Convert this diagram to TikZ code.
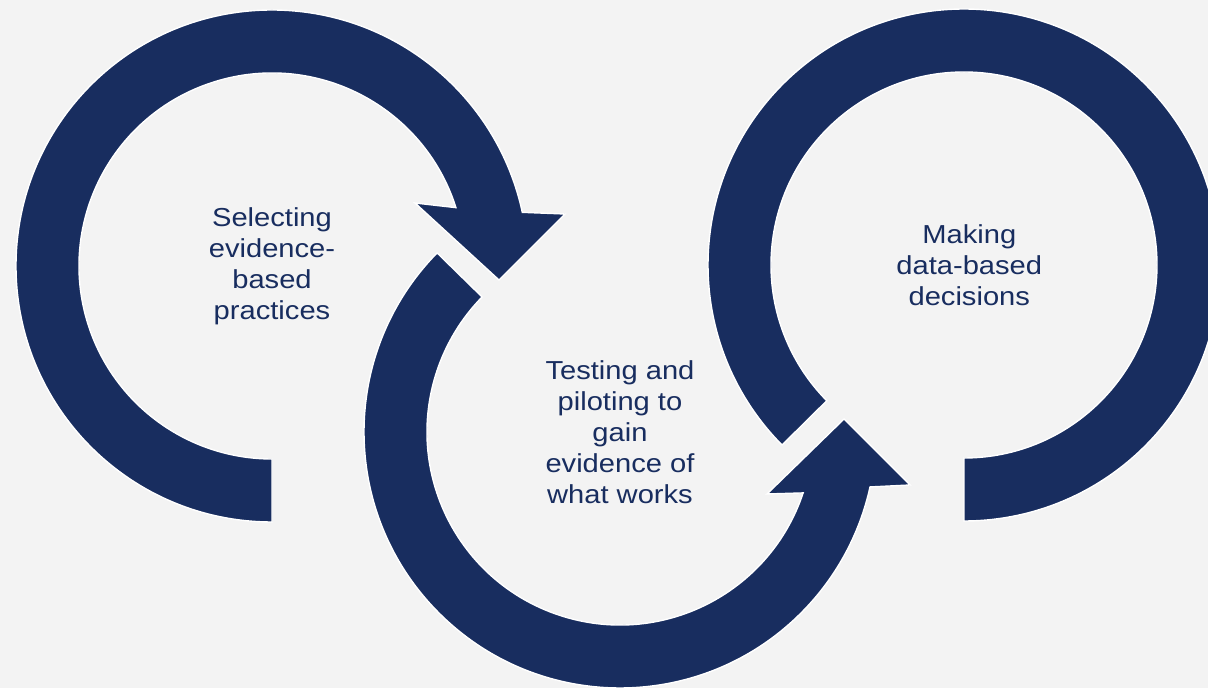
\documentclass[tikz,border=0pt]{standalone}
\usepackage{fontspec}
\setmainfont{Liberation Sans}
\usepackage{tikz}

\definecolor{navy}{HTML}{182D5F}
\definecolor{paper}{HTML}{F3F3F3}

\tikzset{
  band/.style={fill=navy, draw=white, line width=0.8pt},
  looptext/.style={align=center, text=navy, font=\fontsize{14.8}{17.6}\selectfont, xscale=1.12}
}

\begin{document}
\begin{tikzpicture}[x=0.02cm, y=-0.02cm]
        \fill[paper] (0,0) rectangle (1208,688);
        \useasboundingbox (0,0) rectangle (1208,688);
        \clip (0,0) rectangle (1208,688);

        \coordinate (c1) at (272,266);
        \coordinate (c2) at (620,432);
        \coordinate (c3) at (964,265);

        % left loop, arrow points into the middle loop
        \filldraw[band] ([shift={(90:256)}]c1) arc[start angle=90, end angle=347.9, radius=256]
            -- (565,214) -- (499,280) -- (415,203)
            -- ([shift={(342.4:193)}]c1) arc[start angle=342.4, end angle=90, radius=193] -- cycle;

        % middle loop, arrow points into the right loop
        \filldraw[band] ([shift={(224.4:256)}]c2) arc[start angle=224.4, end angle=12.4, radius=256]
            -- (910,485) -- (844,419) -- (767,494)
            -- ([shift={(18.4:193)}]c2) arc[start angle=18.4, end angle=224.4, radius=193] -- cycle;

        % right loop (no arrow)
        \filldraw[band] ([shift={(135.3:256)}]c3) arc[start angle=135.3, end angle=450, radius=256]
            -- ([shift={(90:193)}]c3) arc[start angle=450, end angle=135.3, radius=193] -- cycle;

        \node[looptext] (select) at (c1) {Selecting\\evidence-\\based\\practices};
        \node[looptext] (test) at (c2) {Testing and\\piloting to\\gain\\evidence of\\what works};
        \node[looptext] (decide) at ([xshift=3]c3) {Making\\data-based\\decisions};
    \end{tikzpicture}
\end{document}
